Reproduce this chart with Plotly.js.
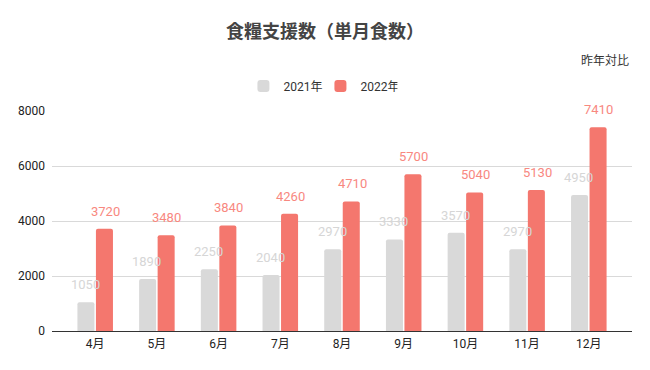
<!DOCTYPE html>
<html>
<head>
<meta charset="utf-8">
<script src="https://cdn.plot.ly/plotly-3.0.1.min.js"></script>
<style>html,body{margin:0;padding:0;background:#fff;}#chart{width:650px;height:370px;}</style>
</head>
<body>
<div id="chart"></div>
<script>
const months = ["4月","5月","6月","7月","8月","9月","10月","11月","12月"];
const values2021 = [1050,1890,2250,2040,2970,3330,3570,2970,4950];
const values2022 = [3720,3480,3840,4260,4710,5700,5040,5130,7410];
const yTicks = [0,2000,4000,6000,8000];

const FONT = "Roboto, 'Noto Sans CJK JP', sans-serif";
const grayBar = "#d9d9d9", redBar = "#f4776e";
const grayText = "#d6d6d6", redText = "#f8887f";

const traces = [
  {type:"bar", name:"2021年", x:months, y:values2021, marker:{color:grayBar, cornerradius:2}, hoverinfo:"none"},
  {type:"bar", name:"2022年", x:months, y:values2022, marker:{color:redBar, cornerradius:2}, hoverinfo:"none"}
];

const annotations = [];
months.forEach((m,i)=>{
  annotations.push({x:m, y:values2021[i], xref:"x", yref:"y", text:String(values2021[i]), showarrow:false,
    xshift:-10, yshift:8, yanchor:"bottom", font:{family:FONT, size:13, color:grayText}});
  annotations.push({x:m, y:values2022[i], xref:"x", yref:"y", text:String(values2022[i]), showarrow:false,
    xshift:10, yshift:8, yanchor:"bottom", font:{family:FONT, size:13, color:redText}});
});
annotations.push({xref:"paper", yref:"paper", x:0.9985, y:1.228, xanchor:"right", yanchor:"middle",
  text:"昨年対比", showarrow:false, font:{family:FONT, size:12, color:"#333"}});

const layout = {
  width:650, height:370,
  margin:{l:52, r:18, t:111, b:39},
  paper_bgcolor:"#fff", plot_bgcolor:"#fff",
  font:{family:FONT, size:12, color:"#222"},
  title:{text:"<b>食糧支援数（単月食数）</b>", x:0.5, xref:"container", xanchor:"center", y:1-32/370, yref:"container", yanchor:"middle",
    font:{family:FONT, size:18, color:"#444"}},
  barmode:"group", bargap:0.40, bargroupgap:0.08,
  showlegend:true,
  legend:{orientation:"h", xref:"container", yref:"container", x:0.3745, xanchor:"left", y:1-86/370, yanchor:"middle",
    font:{family:FONT, size:12, color:"#333"}, itemwidth:30, traceorder:"normal", entrywidth:32, entrywidthmode:"pixels"},
  xaxis:{type:"category", range:[-0.7, 8.7], showgrid:false, showline:true, linecolor:"#333", linewidth:1,
    ticks:"", ticklabelstandoff:2, tickfont:{family:FONT, size:12, color:"#222"}, fixedrange:true},
  yaxis:{range:[0,8000], tickvals:yTicks, ticktext:yTicks.map(String), showgrid:true, gridcolor:"#d9d9d9", gridwidth:1,
    zeroline:false, showline:false, ticks:"", ticklabelstandoff:6, tickfont:{family:FONT, size:12, color:"#222"}, fixedrange:true},
  annotations:annotations
};

Plotly.newPlot("chart", traces, layout, {displayModeBar:false, staticPlot:true});
</script>
</body>
</html>
